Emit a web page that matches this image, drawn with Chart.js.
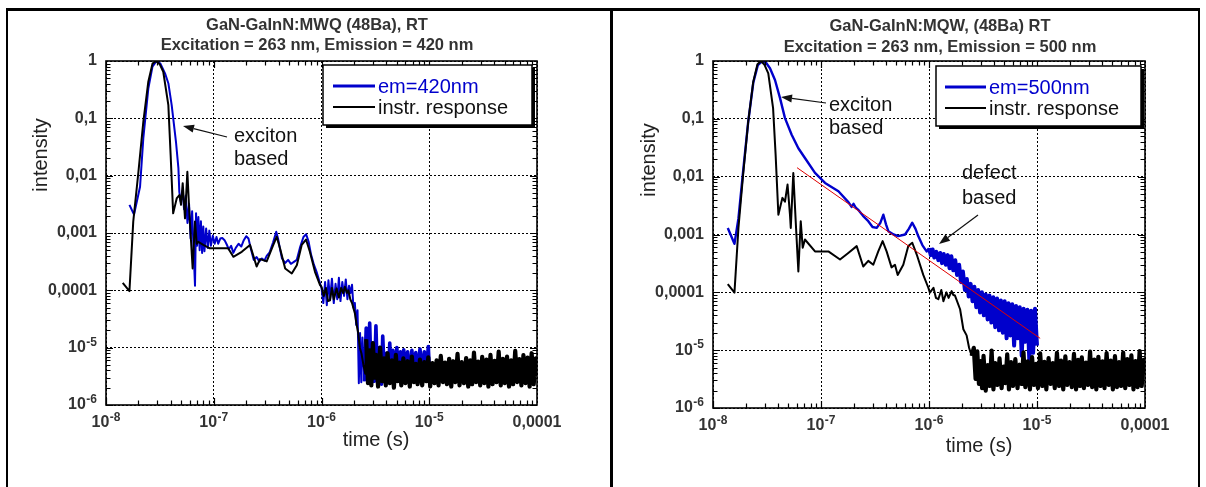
<!DOCTYPE html>
<html><head><meta charset="utf-8">
<script src="https://cdn.jsdelivr.net/npm/chart.js@4"></script>
<style>
html,body{margin:0;padding:0;background:#fff;width:1206px;height:487px;overflow:hidden;position:relative}
#c1{position:absolute;left:0;top:0}
#c2{position:absolute;left:606px;top:0}
.ln{position:absolute;background:#000}
</style></head><body>
<canvas id="c1" width="606" height="487"></canvas>
<canvas id="c2" width="600" height="487"></canvas>
<div class="ln" style="left:6px;top:8px;width:1194px;height:3px"></div>
<div class="ln" style="left:6px;top:8px;width:2px;height:479px"></div>
<div class="ln" style="left:610px;top:8px;width:2.5px;height:479px"></div>
<div class="ln" style="left:1198px;top:8px;width:2px;height:479px"></div>
<script>
// ---------- tick values & labels ----------
const xTickValues = [1e-8, 1e-7, 1e-6, 1e-5, 1e-4];
const xTickLabels = [['10','-8'],['10','-7'],['10','-6'],['10','-5'],['0,0001','']];
const yTickValues = [1, 0.1, 0.01, 0.001, 0.0001, 1e-5, 1e-6];
const yTickLabels = [['1',''],['0,1',''],['0,01',''],['0,001',''],['0,0001',''],['10','-5'],['10','-6']];

// ---------- LEFT panel: em = 420 nm ----------
const leftEmission = [
 [1.65e-8,3.1e-3],[1.82e-8,2.1e-3],[2.07e-8,6.4e-3],[2.22e-8,0.045],[2.47e-8,0.33],[2.7e-8,0.8],[2.95e-8,1.0],[3.2e-8,0.9],[3.53e-8,0.61],[3.79e-8,0.41],
 [4.07e-8,0.17],[4.46e-8,0.039],[4.7e-8,0.0134],[4.79e-8,5.2e-3],[4.95e-8,3.5e-3],[5.15e-8,5.5e-3],[5.3e-8,2.6e-3],[5.5e-8,4.5e-3],[5.7e-8,1.5e-3],[5.9e-8,3.2e-3],
 [6.1e-8,8e-4],[6.3e-8,2.4e-3],[6.5e-8,5e-4],[6.7e-8,1.2e-4],[6.85e-8,2.2e-3],[7.0e-8,6e-4],[7.2e-8,1.9e-3],[7.4e-8,5e-4],[7.6e-8,1.6e-3],[7.8e-8,4.5e-4],
 [8.0e-8,1.3e-3],[8.2e-8,4.8e-4],[8.5e-8,1.2e-3],[8.8e-8,5.5e-4],[9.1e-8,1.1e-3],[9.4e-8,6e-4],[9.8e-8,9e-4],[1.02e-7,6.5e-4],[1.06e-7,8.5e-4],[1.1e-7,6.5e-4],
 [1.15e-7,8e-4],[1.2e-7,8.2e-4],[1.26e-7,7.5e-4],[1.32e-7,6.3e-4],[1.38e-7,5.2e-4],[1.45e-7,6.0e-4],[1.52e-7,4.5e-4],[1.6e-7,5.5e-4],[1.7e-7,6.5e-4],[1.8e-7,5.8e-4],
 [1.9e-7,7.5e-4],[2.0e-7,8.8e-4],[2.1e-7,8.0e-4],[2.2e-7,5.5e-4],[2.35e-7,3.4e-4],[2.5e-7,3.8e-4],[2.65e-7,3.2e-4],[2.8e-7,3.6e-4],[2.95e-7,3.3e-4],[3.1e-7,4.0e-4],
 [3.3e-7,4.6e-4],[3.55e-7,6.8e-4],[3.8e-7,1.05e-3],[3.95e-7,8e-4],[4.1e-7,5.5e-4],[4.3e-7,3.6e-4],[4.6e-7,3.0e-4],[4.9e-7,3.4e-4],[5.2e-7,2.9e-4],[5.5e-7,3.1e-4],
 [5.9e-7,3.4e-4],[6.3e-7,5.5e-4],[6.8e-7,8.5e-4],[7.2e-7,9.5e-4],[7.6e-7,7e-4],[8.0e-7,4.2e-4],[8.5e-7,2.8e-4],[9.0e-7,2.1e-4],[9.5e-7,1.5e-4],
 [1.0e-6,1.1e-4],[1.04e-6,6e-5],[1.08e-6,1.4e-4],[1.12e-6,5.5e-5],[1.16e-6,1.5e-4],[1.2e-6,7e-5],[1.25e-6,1.6e-4],[1.3e-6,6e-5],[1.35e-6,1.3e-4],[1.4e-6,7e-5],
 [1.45e-6,1.65e-4],[1.5e-6,6.5e-5],[1.56e-6,1.4e-4],[1.62e-6,8e-5],[1.68e-6,1.55e-4],[1.74e-6,7e-5],[1.8e-6,1.2e-4],[1.86e-6,9e-5],[1.92e-6,1.25e-4],[1.98e-6,5e-5],
 [2.04e-6,6e-5],[2.1e-6,2.5e-5],[2.16e-6,4.5e-5],[2.22e-6,2.4e-6],[2.28e-6,1.8e-5],[2.34e-6,2.5e-6],[2.4e-6,1.5e-5],
 [2.5e-6,2.6e-6],[2.6e-6,2.2e-5],[2.7e-6,3.0e-6],[2.8e-6,2.7e-5],[2.9e-6,2.4e-6],[3.0e-6,1.2e-5],[3.1e-6,2.6e-6],[3.2e-6,2.4e-5],[3.3e-6,3.2e-6],[3.45e-6,1.0e-5],
 [3.6e-6,2.3e-6],[3.7e-6,1.6e-5],[3.85e-6,2.8e-6],[4.0e-6,8e-6],[4.15e-6,2.5e-6],[4.3e-6,1.2e-5],[4.45e-6,3.0e-6],[4.6e-6,9e-6],[4.8e-6,2.6e-6],[5.0e-6,1.0e-5],
 [5.2e-6,3.5e-6],[5.4e-6,8.5e-6],[5.6e-6,2.8e-6],[5.8e-6,9.2e-6],[6.0e-6,3.4e-6],[6.3e-6,8.5e-6],[6.6e-6,3.0e-6],[6.9e-6,9e-6],[7.2e-6,3.6e-6],[7.5e-6,8.2e-6],
 [7.8e-6,3.2e-6],[8.2e-6,9.5e-6],[8.6e-6,3.8e-6],[9.0e-6,8.5e-6],[9.4e-6,3.5e-6],[9.8e-6,1.05e-5],[1.0e-5,4.5e-6]
];
const leftInstrHead = [
 [1.43e-8,1.35e-4],[1.65e-8,9.7e-5],[1.79e-8,1.58e-3],[2.0e-8,0.0117],[2.22e-8,0.087],[2.47e-8,0.436],[2.7e-8,0.9],[2.91e-8,1.0],[3.15e-8,0.88],[3.4e-8,0.65],
 [3.79e-8,0.17],[3.98e-8,0.023],[4.2e-8,2.2e-3],[4.53e-8,4.0e-3],[4.8e-8,4.6e-3],[4.97e-8,3.1e-3],[5.15e-8,7.4e-3],[5.41e-8,1.8e-3],[5.69e-8,0.0117],[5.93e-8,2.35e-3],
 [6.37e-8,2.4e-4],[6.7e-8,1.58e-3],[6.95e-8,6.5e-4],[7.19e-8,7.0e-4],[8.0e-8,6.2e-4],[9.2e-8,5.4e-4],[1.14e-7,5.4e-4],[1.36e-7,5.4e-4],[1.52e-7,3.85e-4],[1.82e-7,4.7e-4],
 [2.17e-7,6.2e-4],[2.5e-7,2.6e-4],[2.69e-7,3.5e-4],[3.1e-7,3.2e-4],[3.57e-7,6.2e-4],[3.84e-7,8.6e-4],[4.12e-7,5.4e-4],[4.6e-7,2.4e-4],[5.3e-7,1.97e-4],[5.9e-7,2.75e-4],
 [6.55e-7,6.2e-4],[7.18e-7,7.7e-4],[7.8e-7,4.7e-4],[8.7e-7,2.1e-4],[9.7e-7,1.23e-4],[1.0e-6,1.15e-4],[1.05e-6,8e-5],[1.1e-6,1.1e-4],[1.15e-6,6.5e-5],[1.2e-6,6.7e-5],
 [1.25e-6,1.1e-4],[1.3e-6,7e-5],[1.38e-6,1.08e-4],[1.45e-6,7.5e-5],[1.52e-6,1.1e-4],[1.59e-6,8.9e-5],[1.65e-6,1.15e-4],[1.72e-6,9e-5],[1.78e-6,1.0e-4],[1.85e-6,7e-5],
 [1.92e-6,6e-5],[2.04e-6,4.0e-5],[2.12e-6,2.5e-5],[2.19e-6,1.8e-5],[2.27e-6,1.0e-5],[2.35e-6,7.9e-6],[2.45e-6,5e-6],[2.55e-6,3.5e-6]
];
// noise tail of the instrument response (time in microseconds, intensity in units of 1e-6)
const tailTimesUs = [
 2.6,2.7,2.8,2.9,3.0,3.1,3.2,3.35,3.5,3.65,
 3.8,3.95,4.1,4.3,4.5,4.7,4.9,5.1,5.3,5.5,
 5.75,6.0,6.3,6.6,6.9,7.2,7.5,7.8,8.2,8.6,
 9.0,9.4,9.8,10.2,10.7,11.2,11.7,12.2,12.8,13.4,
 14.0,14.6,15.3,16.0,16.7,17.5,18.3,19.1,20,21,
 22,23,24,25,26,27.2,28.4,29.7,31,32.4,
 33.9,35.4,37,38.7,40.4,42.2,44.1,46.1,48.2,50.4,
 52.7,55,57.5,60,62.8,65.6,68.5,71.6,74.8,78.2,
 81.7,85.4,89.2,93.2,97.4,100
];
const leftInstrTailMicro = [
 14,2.4,9,2.2,12,3.0,7.5,2.1,10,2.6,
 6.5,2.2,8,2.4,6,2.0,7.5,2.6,5.5,2.2,
 6.5,2.4,5.8,2.1,7,2.5,5.2,2.3,6.2,2.2,
 5.6,2.6,6.8,2.1,5.4,2.4,6.0,2.2,7.2,2.5,
 5.5,2.3,6.4,2.1,5.8,2.5,7.8,2.2,5.6,2.4,
 6.6,2.1,6.0,2.3,8.2,2.5,5.7,2.2,6.9,2.4,
 6.2,2.1,7.5,2.3,5.9,2.5,8.5,2.2,6.4,2.4,
 7.0,2.1,6.0,2.3,8.8,2.5,6.3,2.2,7.4,2.4,
 6.7,2.1,8.0,2.3,6.5,3.2
];

// ---------- RIGHT panel: em = 500 nm ----------
const rightEmission = [
 [1.37e-8,1.3e-3],[1.58e-8,6.9e-4],[1.72e-8,1.9e-3],[1.9e-8,0.0124],[2.12e-8,0.09],[2.36e-8,0.42],[2.6e-8,0.85],[2.86e-8,1.0],[3.1e-8,0.93],[3.37e-8,0.75],
 [3.75e-8,0.47],[4.17e-8,0.23],[4.64e-8,0.103],[5.35e-8,0.053],[6.17e-8,0.031],[7.1e-8,0.021],[8.8e-8,0.0116],[1.09e-7,7.8e-3],[1.45e-7,5.6e-3],[1.8e-7,3.6e-3],
 [1.92e-7,3.0e-3],[2.0e-7,3.4e-3],[2.1e-7,2.9e-3],[2.2e-7,2.7e-3],[2.45e-7,2.1e-3],[2.74e-7,1.7e-3],[3.0e-7,1.35e-3],[3.28e-7,1.3e-3],[3.55e-7,1.6e-3],[3.78e-7,2.2e-3],
 [4.0e-7,1.5e-3],[4.2e-7,1.14e-3],[4.7e-7,1.0e-3],[5.2e-7,9.4e-4],[6.0e-7,1.0e-3],[6.5e-7,1.25e-3],[7.0e-7,1.6e-3],[7.5e-7,1.25e-3],[7.95e-7,9.4e-4],[8.7e-7,6.5e-4],
 [9.5e-7,5.1e-4]
];
const rightEmTailTimesUs = [
 1.0,1.04,1.08,1.12,1.17,1.22,1.27,1.32,1.37,1.43,
 1.49,1.55,1.61,1.68,1.75,1.82,1.9,1.98,2.06,2.15,
 2.24,2.33,2.43,2.53,2.63,2.74,2.85,2.97,3.09,3.22,
 3.35,3.49,3.63,3.78,3.94,4.1,4.27,4.45,4.63,4.82,
 5.02,5.23,5.44,5.67,5.9,6.14,6.4,6.66,6.93,7.22,
 7.52,7.83,8.15,8.48,8.83,9.2,9.58,10.0
];
const rightEmTailValues = [
 5.8e-4,4.4e-4,5.5e-4,4.0e-4,5.0e-4,3.6e-4,4.8e-4,3.2e-4,4.6e-4,3.0e-4,
 4.4e-4,2.6e-4,4.2e-4,2.4e-4,3.6e-4,2.0e-4,3.0e-4,1.5e-4,2.3e-4,1.1e-4,
 1.7e-4,8.5e-5,1.4e-4,7.0e-5,1.25e-4,5.5e-5,1.1e-4,4.5e-5,1.0e-4,4.0e-5,
 9.2e-5,3.4e-5,8.8e-5,3.0e-5,8.2e-5,2.5e-5,7.8e-5,2.2e-5,7.2e-5,2.0e-5,
 7.0e-5,1.6e-5,6.5e-5,1.8e-5,6.2e-5,1.2e-5,5.8e-5,1.6e-5,5.5e-5,8e-6,
 5.2e-5,1.4e-5,5.0e-5,7e-6,4.8e-5,9e-6,5.2e-5,1.2e-5
];
const rightInstrHead = [
 [1.37e-8,1.38e-4],[1.58e-8,9.9e-5],[1.72e-8,1.3e-3],[1.9e-8,0.0108],[2.12e-8,0.09],[2.36e-8,0.44],[2.58e-8,0.88],[2.78e-8,1.0],[3.0e-8,0.86],[3.25e-8,0.61],
 [3.6e-8,0.153],[3.8e-8,0.024],[4.03e-8,2.2e-3],[4.39e-8,4.3e-3],[4.64e-8,3.7e-3],[4.9e-8,7.3e-3],[5.16e-8,2.2e-3],[5.25e-8,1.3e-3],[5.54e-8,0.0116],[5.83e-8,1.7e-3],
 [6.17e-8,2.3e-4],[6.49e-8,1.7e-3],[6.77e-8,5.9e-4],[7.1e-8,8.2e-4],[8.8e-8,5.1e-4],[1.17e-7,5.1e-4],[1.5e-7,3.7e-4],[1.79e-7,4.8e-4],[2.14e-7,6.3e-4],[2.46e-7,2.8e-4],
 [2.74e-7,3.5e-4],[3.05e-7,3.0e-4],[3.39e-7,5.1e-4],[3.72e-7,7.7e-4],[4.05e-7,5.1e-4],[4.5e-7,2.7e-4],[4.84e-7,3.0e-4],[5.13e-7,2.0e-4],[5.78e-7,3.0e-4],[6.43e-7,6.3e-4],
 [7.0e-7,7.2e-4],[7.7e-7,4.5e-4],[8.85e-7,2.0e-4],[9.86e-7,1.2e-4],[1.02e-6,9.9e-5],[1.1e-6,1.2e-4],[1.16e-6,8e-5],[1.22e-6,7.6e-5],[1.3e-6,1.1e-4],[1.36e-6,7e-5],
 [1.45e-6,1.0e-4],[1.52e-6,8e-5],[1.62e-6,1.05e-4],[1.68e-6,9e-5],[1.74e-6,8.8e-5],[1.94e-6,5.1e-5],[2.08e-6,2.3e-5],[2.23e-6,1.8e-5],[2.35e-6,1.1e-5],[2.48e-6,8e-6]
];
const rightInstrTailMicro = [
 11,3.2,9.5,2.6,6.5,2.2,8.0,2.0,5.5,2.4,
 9.8,2.1,6.0,2.5,7.2,2.2,5.2,2.7,8.5,2.1,
 6.2,2.4,7.0,2.2,5.6,2.6,9.2,2.3,6.4,2.1,
 7.6,2.5,5.8,2.2,8.8,2.4,6.3,2.1,7.3,2.6,
 6.0,2.2,9.0,2.4,6.6,2.1,7.8,2.5,6.2,2.3,
 8.6,2.1,6.8,2.4,7.5,2.2,6.1,2.5,9.4,2.3,
 6.9,2.1,7.7,2.4,6.4,2.2,8.9,2.5,6.6,2.1,
 7.9,2.3,6.2,2.4,9.1,2.2,7.0,2.5,8.1,2.1,
 6.5,2.3,9.6,2.4,6.8,4.0
];
const rightFitLine = [[6.0e-8,0.0143],[1.07e-5,1.6e-5]];

// ---------- helpers ----------
const FONT = '"Liberation Sans", Arial, Helvetica, sans-serif';
const BLUE = '#0000cc';
const pts = arr => arr.map(p => ({x: p[0], y: p[1]}));
const tail = (timesUs, vals, scale) => timesUs.map((t, i) => ({x: t * 1e-6, y: vals[i] * scale}));
// thicker stroke where the trace is a dense noise band
const bandWidth = (from, w) => ({borderWidth: c => (c.p0.parsed.x >= from ? w : undefined)});

function tickLabel(ctx, base, exp, x, y, align) {
  ctx.font = 'bold 16px ' + FONT;
  const wb = ctx.measureText(base).width;
  ctx.font = 'bold 12px ' + FONT;
  const we = exp ? ctx.measureText(exp).width + 0.5 : 0;
  const w = wb + we;
  const x0 = align === 'right' ? x - w : x - w / 2;
  ctx.textAlign = 'left'; ctx.textBaseline = 'middle'; ctx.fillStyle = '#333';
  ctx.font = 'bold 16px ' + FONT;
  ctx.fillText(base, x0, y);
  if (exp) { ctx.font = 'bold 12px ' + FONT; ctx.fillText(exp, x0 + wb + 0.5, y - 5); }
}

function arrow(ctx, x1, y1, x2, y2) {
  ctx.strokeStyle = '#111'; ctx.fillStyle = '#111'; ctx.lineWidth = 1.2;
  const ang = Math.atan2(y2 - y1, x2 - x1), L = 11, W = 4;
  const bx = x2 - L * Math.cos(ang), by = y2 - L * Math.sin(ang);
  ctx.beginPath(); ctx.moveTo(x1, y1); ctx.lineTo(bx, by); ctx.stroke();
  ctx.beginPath(); ctx.moveTo(x2, y2);
  ctx.lineTo(bx + W * Math.sin(ang), by - W * Math.cos(ang));
  ctx.lineTo(bx - W * Math.sin(ang), by + W * Math.cos(ang));
  ctx.closePath(); ctx.fill();
}

function decor(cfg) {
  return {
    id: 'decor',
    afterDraw(chart) {
      const {ctx, chartArea: a, scales: {x, y}} = chart;
      ctx.save();
      ctx.strokeStyle = '#000'; ctx.lineWidth = 1.2;
      ctx.beginPath();
      for (let e = -8; e < -4; e++) for (let m = 1; m < 10; m++) {
        const px = Math.round(x.getPixelForValue(m * Math.pow(10, e))) + 0.5;
        const L = m === 1 ? 7 : 4.5;
        ctx.moveTo(px, a.bottom); ctx.lineTo(px, a.bottom - L);
        ctx.moveTo(px, a.top); ctx.lineTo(px, a.top + L);
      }
      for (let e = -6; e < 0; e++) for (let m = 1; m < 10; m++) {
        const py = Math.round(y.getPixelForValue(m * Math.pow(10, e))) + 0.5;
        const L = m === 1 ? 7 : 4.5;
        ctx.moveTo(a.left, py); ctx.lineTo(a.left + L, py);
        ctx.moveTo(a.right, py); ctx.lineTo(a.right - L, py);
      }
      ctx.stroke();
      ctx.lineWidth = 1.6;
      ctx.strokeRect(a.left, a.top, a.right - a.left, a.bottom - a.top);
      yTickValues.forEach((v, i) => tickLabel(ctx, yTickLabels[i][0], yTickLabels[i][1], a.left - 9, y.getPixelForValue(v), 'right'));
      xTickValues.forEach((v, i) => tickLabel(ctx, xTickLabels[i][0], xTickLabels[i][1], x.getPixelForValue(v), a.bottom + 18, 'center'));
      ctx.fillStyle = '#333'; ctx.textAlign = 'center'; ctx.textBaseline = 'middle';
      ctx.font = 'bold 16.5px ' + FONT;
      ctx.fillText(cfg.title[0], cfg.titleX, cfg.titleY[0]);
      ctx.fillText(cfg.title[1], cfg.titleX, cfg.titleY[1]);
      ctx.fillStyle = '#222'; ctx.font = '20px ' + FONT;
      ctx.fillText('time (s)', cfg.xTitle[0], cfg.xTitle[1]);
      ctx.save(); ctx.translate(cfg.yTitle[0], cfg.yTitle[1]); ctx.rotate(-Math.PI / 2);
      ctx.fillText('intensity', 0, 0); ctx.restore();
      const L = cfg.legend, bx = a.right - L.dr, by = a.top + L.dt;
      ctx.fillStyle = '#000'; ctx.fillRect(bx + 3, by + 3, L.w, L.h);
      ctx.fillStyle = '#fff'; ctx.fillRect(bx, by, L.w, L.h);
      ctx.strokeStyle = '#000'; ctx.lineWidth = 1.5; ctx.strokeRect(bx, by, L.w, L.h);
      const rows = [[cfg.emLabel, BLUE, 3], ['instr. response', '#000', 2.2]];
      rows.forEach((r, i) => {
        const ry = by + 21 + i * 21;
        ctx.strokeStyle = r[1]; ctx.lineWidth = r[2];
        ctx.beginPath(); ctx.moveTo(bx + L.s0, ry); ctx.lineTo(bx + L.s1, ry); ctx.stroke();
        ctx.fillStyle = i === 0 ? BLUE : '#111'; ctx.font = '20px ' + FONT;
        ctx.textAlign = 'left'; ctx.textBaseline = 'middle';
        ctx.fillText(r[0], bx + L.tx, ry + 1);
      });
      ctx.font = '20px ' + FONT; ctx.textAlign = 'left'; ctx.textBaseline = 'middle';
      cfg.notes.forEach(n => {
        ctx.fillStyle = '#111';
        ctx.fillText(n.t[0], a.left + n.x, a.top + n.y[0]);
        ctx.fillText(n.t[1], a.left + n.x, a.top + n.y[1]);
        arrow(ctx, a.left + n.a[0], a.top + n.a[1], a.left + n.a[2], a.top + n.a[3]);
      });
      ctx.restore();
    }
  };
}

function makeChart(id, cfg) {
  const scaleBase = (min, max, vals) => ({
    type: 'logarithmic', min, max,
    afterBuildTicks: s => { s.ticks = vals.map(v => ({value: v})); },
    ticks: {display: false},
    grid: {color: '#000', lineWidth: 1, drawTicks: false},
    border: {display: false, dash: [2, 2]}
  });
  return new Chart(document.getElementById(id), {
    type: 'line',
    data: {datasets: cfg.datasets},
    options: {
      responsive: false, animation: false, devicePixelRatio: 1,
      layout: {padding: cfg.padding},
      plugins: {legend: {display: false}, title: {display: false}, tooltip: {enabled: false}},
      elements: {point: {radius: 0}, line: {tension: 0, borderJoinStyle: 'round'}},
      scales: {x: scaleBase(1e-8, 1e-4, xTickValues), y: scaleBase(1e-6, 1, yTickValues)}
    },
    plugins: [decor(cfg)]
  });
}

makeChart('c1', {
  padding: {left: 106, right: 69, top: 61, bottom: 82},
  title: ['GaN-GaInN:MWQ (48Ba), RT', 'Excitation = 263 nm, Emission = 420 nm'],
  titleX: 317, titleY: [25, 45],
  xTitle: [376, 440], yTitle: [41, 155],
  emLabel: 'em=420nm',
  legend: {dr: 214, dt: 4, w: 209, h: 60, s0: 10, s1: 52, tx: 55},
  notes: [{t: ['exciton', 'based'], x: 128, y: [75, 98], a: [121, 76, 77, 65]}],
  datasets: [
    {label: 'em=420nm', data: pts(leftEmission), borderColor: BLUE, borderWidth: 2, order: 2, segment: bandWidth(2.45e-6, 3.6)},
    {label: 'instr. response', data: pts(leftInstrHead).concat(tail(tailTimesUs, leftInstrTailMicro, 1e-6)), borderColor: '#000', borderWidth: 2, order: 1, segment: bandWidth(2.58e-6, 4.2)}
  ]
});

makeChart('c2', {
  padding: {left: 107, right: 61, top: 61, bottom: 79},
  title: ['GaN-GaInN:MQW, (48Ba) RT', 'Excitation = 263 nm, Emission = 500 nm'],
  titleX: 334, titleY: [26, 47],
  xTitle: [373, 446], yTitle: [43, 160],
  emLabel: 'em=500nm',
  legend: {dr: 209, dt: 5, w: 205, h: 60, s0: 9, s1: 50, tx: 53},
  notes: [
    {t: ['exciton', 'based'], x: 116, y: [44, 67], a: [113, 42, 68, 36]},
    {t: ['defect', 'based'], x: 249, y: [112, 137], a: [265, 154, 226, 183]}
  ],
  datasets: [
    {label: 'fit', data: pts(rightFitLine), borderColor: '#e00000', borderWidth: 1, order: 0},
    {label: 'em=500nm', data: pts(rightEmission).concat(tail(rightEmTailTimesUs, rightEmTailValues, 1)), borderColor: BLUE, borderWidth: 2.4, order: 2, segment: bandWidth(9.9e-7, 4)},
    {label: 'instr. response', data: pts(rightInstrHead).concat(tail(tailTimesUs, rightInstrTailMicro, 1e-6)), borderColor: '#000', borderWidth: 2, order: 1, segment: bandWidth(2.45e-6, 4.2)}
  ]
});
</script>
</body></html>
